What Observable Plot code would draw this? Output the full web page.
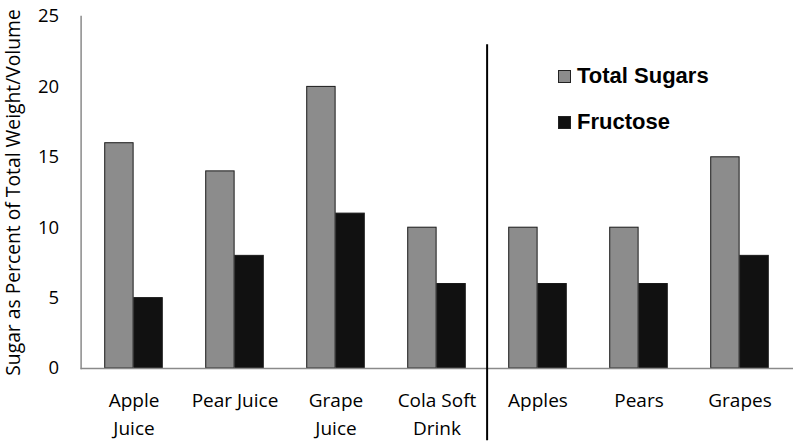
<!DOCTYPE html>
<html>
<head>
<meta charset="utf-8">
<script src="https://cdn.jsdelivr.net/npm/d3@7"></script>
<script src="https://cdn.jsdelivr.net/npm/@observablehq/plot@0.6"></script>
<style>
  html, body { margin: 0; padding: 0; background: #fff; }
  #wrap { position: relative; width: 797px; height: 442px; }
  .legend { position: absolute; font-family: Arial, "Liberation Sans", sans-serif; font-weight: bold; font-size: 22px; color: #000; display: flex; align-items: center; }
  .sw { width: 11px; height: 11px; border: 1px solid #222; margin-right: 6px; }
</style>
</head>
<body>
<div id="wrap"></div>
<script>
const categories = ["Apple Juice", "Pear Juice", "Grape Juice", "Cola Soft Drink", "Apples", "Pears", "Grapes"];
const tickLabels = ["Apple\nJuice", "Pear Juice", "Grape\nJuice", "Cola Soft\nDrink", "Apples", "Pears", "Grapes"];
const series = ["Total Sugars", "Fructose"];
const totalSugars = [16, 14, 20, 10, 10, 10, 15];
const fructose = [5, 8, 11, 6, 6, 6, 8];
const yTicks = [0, 5, 10, 15, 20, 25];
const yTitle = "Sugar as Percent of Total Weight/Volume";
const colors = ["#8c8c8c", "#111111"];
const separatorBefore = "Apples";
const separatorExtent = [-5.14, 23];

const W = 797, H = 442, ML = 80.6, MR = 4, MT = 16, MB = 74;
const bw = (W - ML - MR) / categories.length;
const barW = 0.2866 * bw;
const lead = (bw - 2 * barW) / 2;

const data = [];
categories.forEach((c, i) => {
  data.push({cat: c, series: series[0], value: totalSugars[i]});
  data.push({cat: c, series: series[1], value: fructose[i]});
});

const font = "'Open Sans', sans-serif";

const chart = Plot.plot({
  width: W, height: H,
  marginLeft: ML, marginRight: MR, marginTop: MT, marginBottom: MB,
  style: {fontFamily: font, background: "#fff", color: "#000"},
  x: {domain: categories, padding: 0},
  y: {domain: [0, 25]},
  marks: [
    Plot.barY(data.filter(d => d.series === series[0]), {
      x: "cat", y: "value", fill: colors[0], stroke: "#1a1a1a", strokeWidth: 1,
      insetLeft: lead, insetRight: bw - lead - barW
    }),
    Plot.barY(data.filter(d => d.series === series[1]), {
      x: "cat", y: "value", fill: colors[1], stroke: "#1a1a1a", strokeWidth: 1,
      insetLeft: lead + barW, insetRight: lead
    }),
    Plot.ruleY([0], {stroke: "#8a8a8a", strokeWidth: 1.5}),
    Plot.frame({anchor: "left", stroke: "#8a8a8a", strokeWidth: 1.5}),
    Plot.ruleX([separatorBefore], {y1: separatorExtent[0], y2: separatorExtent[1], dx: -bw / 2, stroke: "#000", strokeWidth: 2}),
    Plot.axisY({ticks: yTicks, tickSize: 0, tickPadding: 22, fontSize: 18.5, label: null}),
    Plot.text([yTitle], {frameAnchor: "left", rotate: -90, dx: -67, fontSize: 19.3, textAnchor: "middle", fill: "#000"}),
    Plot.axisX({tickSize: 0, tickPadding: 19, fontSize: 19, lineHeight: 1.47, tickFormat: (d) => tickLabels[categories.indexOf(d)], label: null})
  ]
});

const wrap = document.getElementById("wrap");
wrap.appendChild(chart);

const leg = [
  {name: series[0], color: colors[0], top: 63},
  {name: series[1], color: colors[1], top: 109}
];
leg.forEach(l => {
  const d = document.createElement("div");
  d.className = "legend";
  d.style.left = "558px";
  d.style.top = l.top + "px";
  d.innerHTML = `<span class="sw" style="background:${l.color}"></span><span>${l.name}</span>`;
  wrap.appendChild(d);
});
</script>
</body>
</html>
